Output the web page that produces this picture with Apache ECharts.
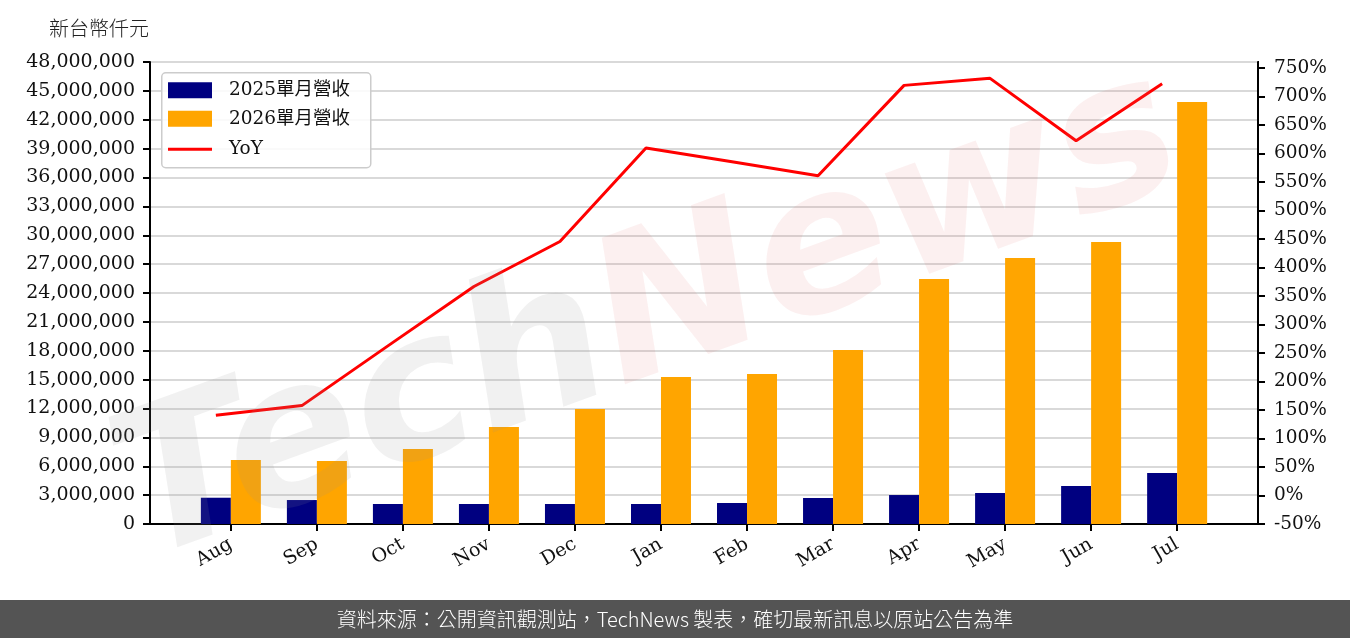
<!DOCTYPE html>
<html>
<head>
<meta charset="utf-8">
<script src="https://cdn.jsdelivr.net/npm/echarts@6/dist/echarts.min.js"></script>
<style>
html,body{margin:0;padding:0;background:#fff;}
#chart{width:1350px;height:638px;}
</style>
</head>
<body>
<div id="chart"></div>
<script>
const months = ['Aug','Sep','Oct','Nov','Dec','Jan','Feb','Mar','Apr','May','Jun','Jul'];
const rev2025 = [2730000, 2490000, 2080000, 2080000, 2080000, 2080000, 2180000, 2700000, 3010000, 3220000, 3950000, 5300000];
const rev2026 = [6650000, 6550000, 7790000, 10080000, 11950000, 15270000, 15580000, 18080000, 25450000, 27640000, 29300000, 43840000];
const yoy = [140.8, 157.7, 262.5, 366.6, 445.6, 609.6, 585.5, 561.0, 719.5, 731.8, 622.4, 722.5];
const rightTicks = [-50,0,50,100,150,200,250,300,350,400,450,500,550,600,650,700,750];
const seriesNames = ['2025單月營收', '2026單月營收', 'YoY'];

const serif = "'DejaVu Serif', 'Noto Sans CJK TC', serif";
const idx = months.map((m, i) => i);
const legendText = { fontFamily: serif, fontSize: 18.5, color: '#111', padding: [0, 0, 0, 12] };

const chart = echarts.init(document.getElementById('chart'));
chart.setOption({
  animation: false,
  backgroundColor: '#ffffff',
  title: {
    text: '新台幣仟元',
    left: 44, top: 13,
    textStyle: { fontFamily: "'Noto Sans CJK TC'", fontWeight: 300, fontSize: 20, color: '#222' }
  },
  grid: {
    left: 150, right: 92, top: 62, bottom: 114,
    show: true, borderColor: '#000', borderWidth: 2, backgroundColor: 'transparent'
  },
  legend: [
    {
      orient: 'vertical',
      left: 168, top: 81,
      padding: 0,
      itemWidth: 44, itemHeight: 16, itemGap: 10,
      icon: 'rect',
      data: [seriesNames[0], seriesNames[1]],
      textStyle: legendText
    },
    {
      orient: 'vertical',
      left: 168, top: 140,
      padding: 0,
      itemWidth: 44, itemHeight: 3,
      icon: 'rect',
      data: [seriesNames[2]],
      itemStyle: { color: '#ff0000' },
      textStyle: legendText
    }
  ],
  xAxis: [
    {
      type: 'value',
      min: -0.94, max: 11.94,
      splitLine: { show: false },
      axisLine: { show: true, onZero: false, lineStyle: { color: '#000', width: 2 } },
      axisTick: { show: true, length: 7, lineStyle: { color: '#000', width: 2 }, customValues: idx },
      axisLabel: {
        customValues: idx,
        rotate: 30, margin: 19,
        fontFamily: serif, fontSize: 19, color: '#111',
        formatter: v => months[Math.round(v)] || ''
      }
    },
    {
      type: 'value',
      min: -0.94 + 0.1744, max: 11.94 + 0.1744,
      show: false
    }
  ],
  yAxis: [
    {
      type: 'value',
      min: 0, max: 48000000, interval: 3000000,
      axisLine: { show: true, onZero: false, lineStyle: { color: '#000', width: 2 } },
      axisTick: { show: true, length: 7, lineStyle: { color: '#000', width: 2 } },
      splitLine: { show: true, lineStyle: { color: '#d9d9d9', width: 2 } },
      axisLabel: {
        margin: 15, fontFamily: serif, fontSize: 19, color: '#111',
        formatter: v => v.toLocaleString('en-US')
      }
    },
    {
      type: 'value',
      min: -50, max: 760.5,
      position: 'right',
      splitLine: { show: false },
      axisLine: { show: true, onZero: false, lineStyle: { color: '#000', width: 2 } },
      axisTick: { show: true, length: 7, lineStyle: { color: '#000', width: 2 }, customValues: rightTicks },
      axisLabel: {
        customValues: rightTicks,
        margin: 16, fontFamily: serif, fontSize: 18.5, color: '#111',
        formatter: v => Math.round(v) + '%'
      }
    }
  ],
  series: [
    {
      name: seriesNames[0], type: 'bar',
      xAxisIndex: 0, yAxisIndex: 0,
      barWidth: 30, barGap: '0%',
      itemStyle: { color: '#000080' },
      data: rev2025.map((v, i) => [i, v])
    },
    {
      name: seriesNames[1], type: 'bar',
      xAxisIndex: 0, yAxisIndex: 0,
      barWidth: 30, barGap: '0%',
      itemStyle: { color: '#ffa500' },
      data: rev2026.map((v, i) => [i, v])
    },
    {
      name: seriesNames[2], type: 'line',
      xAxisIndex: 1, yAxisIndex: 1,
      symbol: 'none', showSymbol: false,
      lineStyle: { color: '#ff0000', width: 3 },
      itemStyle: { color: '#ff0000' },
      z: 2,
      data: yoy.map((v, i) => [i, v])
    }
  ],
  graphic: [
    {
      type: 'rect',
      left: 161, top: 72, z: 3, silent: true,
      shape: { width: 209, height: 95, r: 4 },
      style: { fill: 'rgba(255,255,255,0.85)', stroke: '#cccccc', lineWidth: 1.5 }
    },
    {
      type: 'text',
      x: 650, y: 320,
      rotation: Math.PI / 9,
      z: 50, silent: true,
      style: {
        text: '{a|Tech}{b|News}',
        align: 'center', verticalAlign: 'middle',
        rich: {
          a: { fontFamily: "'DejaVu Sans'", fontStyle: 'italic', fontWeight: 'bold', fontSize: 200, fill: 'rgba(150,150,150,0.13)' },
          b: { fontFamily: "'DejaVu Sans'", fontStyle: 'italic', fontWeight: 'bold', fontSize: 200, fill: 'rgba(225,110,110,0.10)' }
        }
      }
    },
    {
      type: 'rect',
      left: 0, top: 600, z: 100,
      shape: { width: 1350, height: 38 },
      style: { fill: '#545454' }
    },
    {
      type: 'text',
      x: 675, y: 619, z: 101,
      style: {
        text: '資料來源：公開資訊觀測站，TechNews 製表，確切最新訊息以原站公告為準',
        fontFamily: "'Noto Sans CJK TC'", fontWeight: 300, fontSize: 20, fill: '#ffffff',
        align: 'center', verticalAlign: 'middle'
      }
    }
  ]
});
</script>
</body>
</html>
